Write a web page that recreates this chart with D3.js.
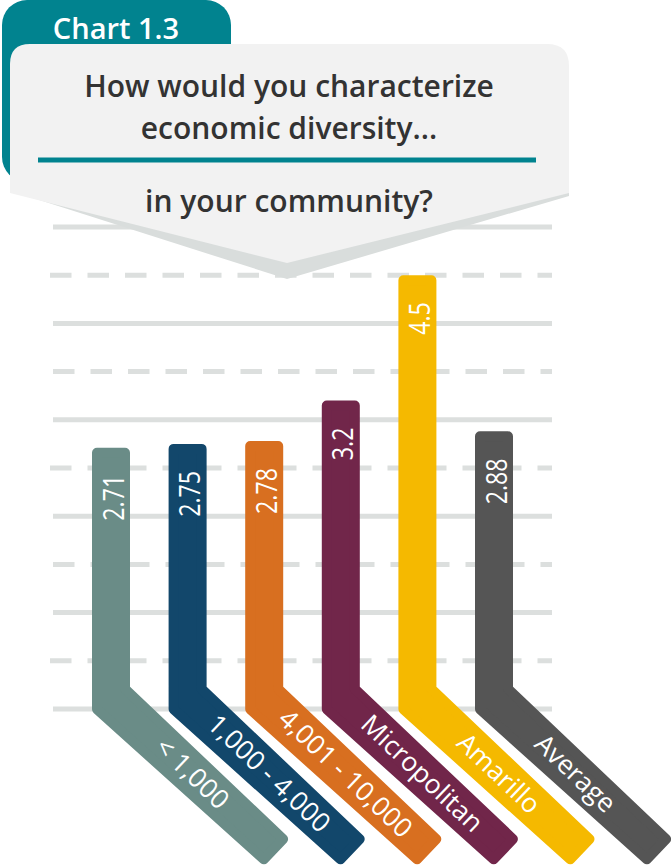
<!DOCTYPE html>
<html>
<head>
<meta charset="utf-8">
<script src="https://cdn.jsdelivr.net/npm/d3@7"></script>
<style>
  html, body { margin: 0; padding: 0; background: #ffffff; }
  svg { display: block; }
  text { font-family: "Open Sans", "Noto Sans", sans-serif; }
</style>
</head>
<body>
<svg id="chart" width="671" height="866"></svg>
<script>
// ---- data ----
const categories = ["< 1,000", "1,000 - 4,000", "4,001 - 10,000", "Micropolitan", "Amarillo", "Average"];
const values = [2.71, 2.75, 2.78, 3.2, 4.5, 2.88];
const valueLabels = ["2.71", "2.75", "2.78", "3.2", "4.5", "2.88"];
const gridValues = [0, 0.5, 1, 1.5, 2, 2.5, 3, 3.5, 4, 4.5, 5];
const chartLabel = "Chart 1.3";
const questionLines = ["How would you characterize", "economic diversity..."];
const questionTail = "in your community?";
const barColors = ["#6a8c87", "#12476b", "#d86f20", "#71264a", "#f5b900", "#555555"];

const data = categories.map((c, i) => ({ cat: c, value: values[i], label: valueLabels[i] }));

const svg = d3.select("#chart");

// ---- scales ----
const x = d3.scalePoint().domain(categories).range([111, 494]);
const y = d3.scaleLinear().domain([0, 5]).range([709, 227]);
const color = d3.scaleOrdinal().domain(categories).range(barColors);

// ---- gridlines ----
const grid = svg.append("g");
grid.selectAll("line")
  .data(gridValues)
  .join("line")
  .attr("x1", (d, i) => (i % 4 === 1) ? 50 : 53)
  .attr("x2", 552)
  .attr("y1", d => y(d))
  .attr("y2", d => y(d))
  .attr("stroke", "#dcdfde")
  .attr("stroke-width", 5)
  .attr("stroke-dasharray", d => (Math.round(d * 2) % 2 === 1) ? "21.5 16" : null);

// ---- tab ----
svg.append("rect")
  .attr("x", 2).attr("y", 0).attr("width", 229).attr("height", 182)
  .attr("rx", 25).attr("ry", 25)
  .attr("fill", "#01838f");
svg.append("text")
  .attr("x", 116).attr("y", 39)
  .attr("text-anchor", "middle")
  .attr("fill", "#ffffff")
  .attr("font-size", 29)
  .attr("font-weight", 600)
  .text(chartLabel);

// ---- speech bubble ----
svg.append("path")
  .attr("d", "M30,197 L287,279 L569,196 L569,190 L10,190 Z")
  .attr("fill", "#d9dddc");
svg.append("path")
  .attr("d", "M10,193 L10,64 Q10,44 30,44 L547,44 Q569,44 569,66 L569,193 L287,263 Z")
  .attr("fill", "#f2f2f2");

const qg = svg.append("g").attr("fill", "#333333").attr("font-size", 30).attr("font-weight", 600).attr("text-anchor", "middle");
qg.selectAll("text.q")
  .data(questionLines)
  .join("text")
  .attr("class", "q")
  .attr("x", 289)
  .attr("y", (d, i) => 97 + i * 42)
  .text(d => d);
svg.append("line")
  .attr("x1", 38).attr("x2", 536).attr("y1", 160).attr("y2", 160)
  .attr("stroke", "#01838f").attr("stroke-width", 5);
qg.append("text").attr("x", 289).attr("y", 212).text(questionTail);

// ---- bars ----
const theta = 43.5 * Math.PI / 180;
const sinT = Math.sin(theta), cosT = Math.cos(theta);
const halfW = 19, r = 5, bendY = 695, diagLen = 229;

function barPath(d) {
  const cx = x(d.cat);
  const top = y(d.value);
  const h = halfW - r;
  const t = h * (1 - sinT) / cosT;
  const L = diagLen - r;
  const pts = [
    [cx - h, top + r],
    [cx + h, top + r],
    [cx + h, bendY - h * cosT + t * sinT],
    [cx + L * cosT + h * sinT, bendY + L * sinT - h * cosT],
    [cx + L * cosT - h * sinT, bendY + L * sinT + h * cosT],
    [cx - h, bendY + h * cosT + t * sinT]
  ];
  return d3.line()(pts) + "Z";
}

const bars = svg.append("g").selectAll("g.bar")
  .data(data)
  .join("g")
  .attr("class", "bar");

bars.append("path")
  .attr("d", barPath)
  .attr("fill", d => color(d.cat))
  .attr("stroke", d => color(d.cat))
  .attr("stroke-width", 2 * r)
  .attr("stroke-linejoin", "round");

bars.append("text")
  .attr("transform", d => `translate(${x(d.cat) + 12.5},${y(d.value) + 27}) rotate(-90) scale(0.8,1)`)
  .attr("text-anchor", "end")
  .attr("fill", "#ffffff")
  .attr("font-size", 29)
  .attr("font-weight", 500)
  .text(d => d.label);

bars.append("text")
  .attr("transform", d => {
    const cx = x(d.cat) + 113 * cosT;
    const cy = bendY + 113 * sinT;
    return `translate(${cx},${cy}) rotate(${43.5})`;
  })
  .attr("text-anchor", "middle")
  .attr("dominant-baseline", "central")
  .attr("fill", "#ffffff")
  .attr("font-size", 26.5)
  .attr("font-weight", 500)
  .text(d => d.cat);
</script>
</body>
</html>
